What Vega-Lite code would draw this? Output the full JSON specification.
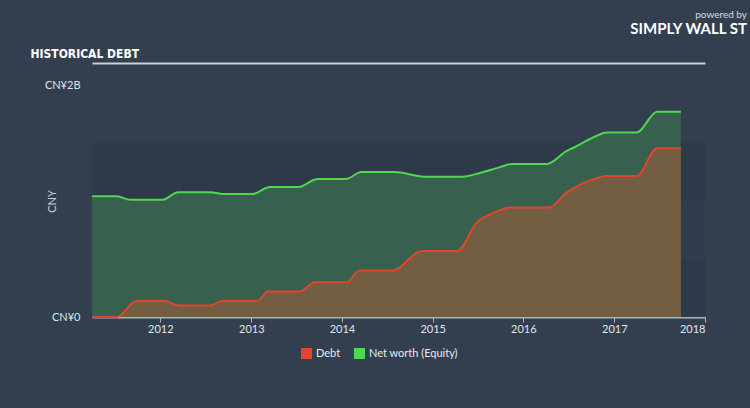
{
  "$schema": "https://vega.github.io/schema/vega-lite/v6.json",
  "width": 613,
  "height": 232,
  "autosize": {"type": "none"},
  "padding": {"left": 92, "top": 85, "right": 45, "bottom": 91},
  "background": "#333f4f",
  "config": {
    "view": {"stroke": null},
    "font": "Lato",
    "axis": {"grid": false}
  },
  "title": {
    "text": "powered by",
    "subtitle": "SIMPLY WALL ST",
    "anchor": "end",
    "frame": "group",
    "dx": 42,
    "offset": 10,
    "fontSize": 10,
    "fontWeight": "normal",
    "color": "#d5dbe0",
    "subtitleFontSize": 15,
    "subtitleFontWeight": "bold",
    "subtitleColor": "#ffffff",
    "subtitlePadding": 2
  },
  "data": {
    "values": [
      {"date": "2011-04-01", "series": "Net worth (Equity)", "value": 1.04e9},
      {"date": "2011-07-11", "series": "Net worth (Equity)", "value": 1.04e9},
      {"date": "2011-09-01", "series": "Net worth (Equity)", "value": 1.01e9},
      {"date": "2012-01-08", "series": "Net worth (Equity)", "value": 1.01e9},
      {"date": "2012-03-13", "series": "Net worth (Equity)", "value": 1.075e9},
      {"date": "2012-07-19", "series": "Net worth (Equity)", "value": 1.075e9},
      {"date": "2012-09-18", "series": "Net worth (Equity)", "value": 1.06e9},
      {"date": "2013-01-04", "series": "Net worth (Equity)", "value": 1.06e9},
      {"date": "2013-03-17", "series": "Net worth (Equity)", "value": 1.12e9},
      {"date": "2013-07-07", "series": "Net worth (Equity)", "value": 1.12e9},
      {"date": "2013-09-26", "series": "Net worth (Equity)", "value": 1.19e9},
      {"date": "2014-01-16", "series": "Net worth (Equity)", "value": 1.19e9},
      {"date": "2014-03-21", "series": "Net worth (Equity)", "value": 1.25e9},
      {"date": "2014-07-31", "series": "Net worth (Equity)", "value": 1.25e9},
      {"date": "2014-11-28", "series": "Net worth (Equity)", "value": 1.21e9},
      {"date": "2015-05-01", "series": "Net worth (Equity)", "value": 1.21e9},
      {"date": "2015-07-07", "series": "Net worth (Equity)", "value": 1.24e9},
      {"date": "2015-09-26", "series": "Net worth (Equity)", "value": 1.29e9},
      {"date": "2015-11-17", "series": "Net worth (Equity)", "value": 1.32e9},
      {"date": "2016-04-06", "series": "Net worth (Equity)", "value": 1.32e9},
      {"date": "2016-06-22", "series": "Net worth (Equity)", "value": 1.43e9},
      {"date": "2016-07-31", "series": "Net worth (Equity)", "value": 1.47e9},
      {"date": "2016-10-20", "series": "Net worth (Equity)", "value": 1.56e9},
      {"date": "2016-12-01", "series": "Net worth (Equity)", "value": 1.59e9},
      {"date": "2017-04-01", "series": "Net worth (Equity)", "value": 1.59e9},
      {"date": "2017-06-22", "series": "Net worth (Equity)", "value": 1.77e9},
      {"date": "2017-09-26", "series": "Net worth (Equity)", "value": 1.77e9},
      {"date": "2011-04-01", "series": "Debt", "value": 0},
      {"date": "2011-07-11", "series": "Debt", "value": 0},
      {"date": "2011-09-26", "series": "Debt", "value": 1.38e8},
      {"date": "2012-01-20", "series": "Debt", "value": 1.38e8},
      {"date": "2012-03-13", "series": "Debt", "value": 1.0e8},
      {"date": "2012-07-19", "series": "Debt", "value": 1.0e8},
      {"date": "2012-09-10", "series": "Debt", "value": 1.38e8},
      {"date": "2013-01-25", "series": "Debt", "value": 1.38e8},
      {"date": "2013-03-09", "series": "Debt", "value": 2.2e8},
      {"date": "2013-07-15", "series": "Debt", "value": 2.2e8},
      {"date": "2013-09-14", "series": "Debt", "value": 3.0e8},
      {"date": "2014-01-20", "series": "Debt", "value": 3.0e8},
      {"date": "2014-03-13", "series": "Debt", "value": 4.0e8},
      {"date": "2014-07-23", "series": "Debt", "value": 4.0e8},
      {"date": "2014-11-20", "series": "Debt", "value": 5.7e8},
      {"date": "2015-04-10", "series": "Debt", "value": 5.7e8},
      {"date": "2015-06-26", "series": "Debt", "value": 8.1e8},
      {"date": "2015-09-18", "series": "Debt", "value": 9.1e8},
      {"date": "2015-11-05", "series": "Debt", "value": 9.45e8},
      {"date": "2016-04-14", "series": "Debt", "value": 9.45e8},
      {"date": "2016-06-22", "series": "Debt", "value": 1.07e9},
      {"date": "2016-10-20", "series": "Debt", "value": 1.195e9},
      {"date": "2016-12-01", "series": "Debt", "value": 1.215e9},
      {"date": "2017-04-01", "series": "Debt", "value": 1.215e9},
      {"date": "2017-06-22", "series": "Debt", "value": 1.455e9},
      {"date": "2017-09-26", "series": "Debt", "value": 1.455e9}
    ]
  },
  "resolve": {"axis": {"x": "independent"}},
  "layer": [
    {
      "mark": {"type": "rect", "color": "#2e3a4a"},
      "encoding": {
        "y": {"datum": 0, "type": "quantitative", "scale": {"domain": [0, 2000000000]}},
        "y2": {"datum": 500000000}
      }
    },
    {
      "mark": {"type": "rect", "color": "#313d4d"},
      "encoding": {
        "y": {"datum": 500000000, "type": "quantitative"},
        "y2": {"datum": 1000000000}
      }
    },
    {
      "mark": {"type": "rect", "color": "#2e3a4a"},
      "encoding": {
        "y": {"datum": 1000000000, "type": "quantitative"},
        "y2": {"datum": 1500000000}
      }
    },
    {
      "transform": [{"filter": "datum.series == 'Net worth (Equity)'"}],
      "mark": {"type": "area", "interpolate": "monotone", "color": "#37614e", "opacity": 1},
      "encoding": {
        "x": {
          "field": "date", "type": "temporal",
          "scale": {"domain": ["2011-04-01", "2018-01-01"]},
          "axis": {
            "orient": "top", "offset": 22, "domain": true, "domainColor": "#c8d0d8", "domainWidth": 2,
            "ticks": false, "labels": false, "grid": false,
            "title": "HISTORICAL DEBT", "titleFont": "DejaVu Sans Condensed", "titleFontWeight": "bold",
            "titleFontSize": 12, "titleColor": "#ffffff", "titleAnchor": "start", "titleAlign": "left",
            "titleX": -62, "titleY": -6, "titleBaseline": "alphabetic"
          }
        },
        "y": {"field": "value", "type": "quantitative"}
      }
    },
    {
      "transform": [{"filter": "datum.series == 'Debt'"}],
      "mark": {"type": "area", "interpolate": "monotone", "color": "#735e44", "opacity": 1},
      "encoding": {
        "x": {"field": "date", "type": "temporal", "axis": null},
        "y": {"field": "value", "type": "quantitative"}
      }
    },
    {
      "mark": {"type": "line", "interpolate": "monotone", "strokeWidth": 2},
      "encoding": {
        "x": {
          "field": "date", "type": "temporal",
          "axis": {
            "orient": "bottom",
            "values": [{"year": 2012}, {"year": 2013}, {"year": 2014}, {"year": 2015}, {"year": 2016}, {"year": 2017}, {"year": 2018}],
            "format": "%Y", "title": null,
            "domainColor": "#aab4be", "domainWidth": 2, "tickColor": "#aab4be", "tickSize": 5, "tickWidth": 1,
            "labelColor": "#e2e6ea", "labelFontSize": 11, "labelPadding": 1, "labelFont": "Lato"
          }
        },
        "y": {
          "field": "value", "type": "quantitative",
          "axis": {
            "values": [0, 2000000000],
            "labelExpr": "datum.value == 0 ? 'CN¥0' : 'CN¥2B'",
            "domain": false, "ticks": false, "labelPadding": 12,
            "labelColor": "#dfe3e7", "labelFontSize": 11, "labelFont": "Lato",
            "title": "CNY", "titleColor": "#c8cfd6", "titleFontSize": 11, "titleFontWeight": "normal", "titleFont": "Lato",
            "titleX": -40, "titleY": 116, "titleAngle": -90, "titleAlign": "center", "titleBaseline": "middle"
          }
        },
        "color": {
          "field": "series", "type": "nominal",
          "scale": {"domain": ["Debt", "Net worth (Equity)"], "range": ["#e2452a", "#4fd74f"]},
          "legend": {
            "orient": "none", "legendX": 209, "legendY": 263, "direction": "horizontal", "title": null,
            "symbolType": "square", "symbolSize": 25, "symbolStrokeWidth": 6, "symbolOpacity": 1,
            "labelColor": "#e6eaee", "labelFontSize": 11, "labelFont": "Lato", "columnPadding": 4
          }
        }
      }
    }
  ]
}
